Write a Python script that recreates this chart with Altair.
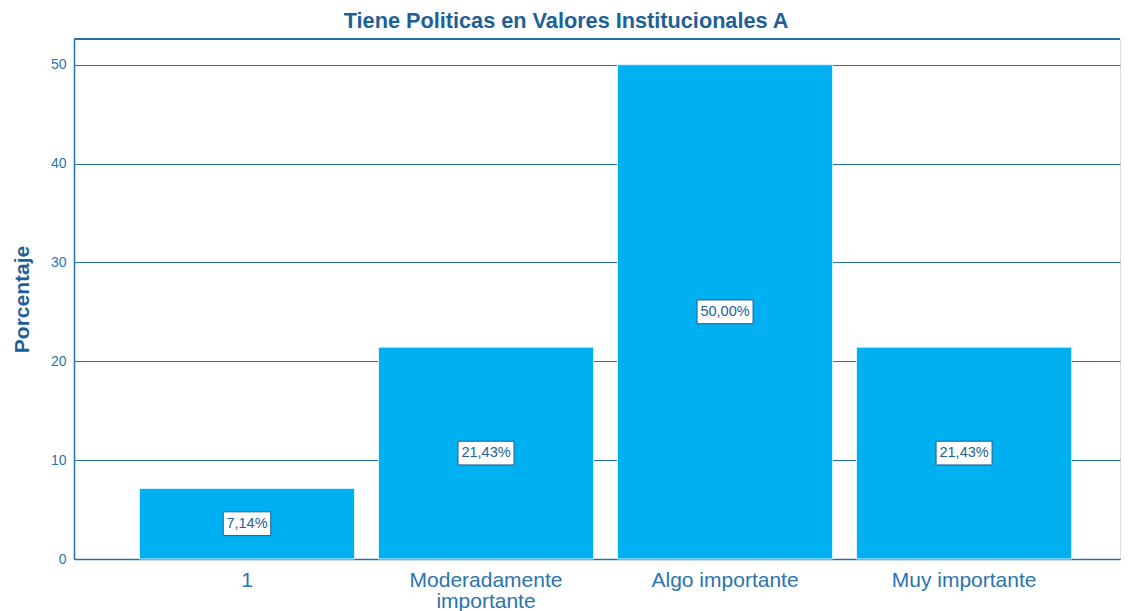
import altair as alt
import pandas as pd

categories = ["1", "Moderadamente importante", "Algo importante", "Muy importante"]
values = [7.14, 21.43, 50.00, 21.43]
value_labels = ["7,14%", "21,43%", "50,00%", "21,43%"]

TITLE = "Tiene Politicas en Valores Institucionales A"
Y_TITLE = "Porcentaje"
Y_TICKS = [0, 10, 20, 30, 40, 50]

BAR = "#00b0f0"
LINE = "#2470aa"
TEXT = "#2a74b0"
DARK = "#1d5f98"
FONT = "Liberation Sans"
W, H = 1046, 520

df = pd.DataFrame({"cat": categories, "value": values, "label": value_labels})
df["mid"] = df["value"] / 2
df["lo"] = df["mid"] - 1.2
df["hi"] = df["mid"] + 1.2
df["bw"] = df["label"].str.len() * 8.5 + 5

xscale = alt.Scale(paddingInner=0.1, paddingOuter=0.238, align=0.575)
x = alt.X("cat:N", sort=categories, title=None, scale=xscale,
          axis=alt.Axis(labelExpr="length(datum.label) > 20 ? split(datum.label, ' ') : datum.label",
                        labelAngle=0, labelFontSize=21, labelColor=TEXT, labelFont=FONT,
                        labelPadding=10, ticks=False, domainColor=LINE, domainWidth=1.5,
                        labelLineHeight=21, labelLimit=400))
yscale = alt.Scale(domain=[0, 52.6], nice=False)

bars = alt.Chart(df).mark_bar(color=BAR, stroke="#d9f3fc", strokeWidth=1).encode(
    x=x,
    y=alt.Y("value:Q", scale=yscale, title=Y_TITLE,
            axis=alt.Axis(values=Y_TICKS, grid=True, gridColor=LINE, gridWidth=1,
                          ticks=False, domainColor=LINE, domainWidth=1.5,
                          labelFontSize=14, labelColor=TEXT, labelFont=FONT, labelPadding=8,
                          titleFontSize=21, titleFontWeight="bold", titleColor=DARK,
                          titleFont=FONT, titlePadding=18)),
)

top_line = alt.Chart(df).mark_rule(color=LINE, strokeWidth=1.5).encode(
    x=alt.value(0), x2=alt.value(W), y=alt.value(0)
)

boxes = alt.Chart(df).mark_bar(fill="white", stroke=DARK, strokeWidth=1).encode(
    x=alt.X("cat:N", sort=categories, scale=xscale),
    y=alt.Y("lo:Q", scale=yscale),
    y2="hi:Q",
    size=alt.Size("bw:Q", scale=None, legend=None),
)

texts = alt.Chart(df).mark_text(fontSize=14.5, color=DARK, font=FONT, baseline="middle").encode(
    x=alt.X("cat:N", sort=categories, scale=xscale),
    y=alt.Y("mid:Q", scale=yscale),
    text="label:N",
)

chart = alt.layer(bars, top_line, boxes, texts).properties(
    width=W, height=H,
    padding={"left": 3, "top": 2, "right": 0, "bottom": 5},
    title=alt.TitleParams(TITLE, fontSize=21.7, fontWeight="bold", color=DARK, font=FONT,
                          anchor="middle", frame="bounds", offset=6, dx=0),
).configure_view(stroke=None).configure(background="white")

chart.save("out.html", embed_options={"renderer": "svg", "actions": False})
